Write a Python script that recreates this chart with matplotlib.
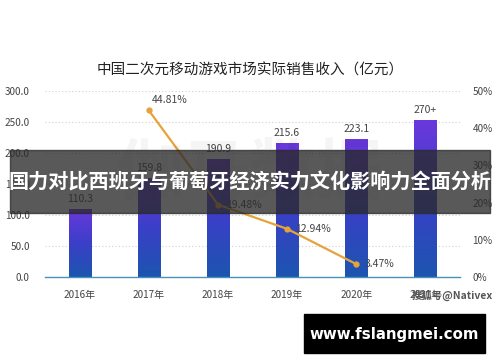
import numpy as np
import matplotlib
matplotlib.use("Agg")
import matplotlib.pyplot as plt
from matplotlib.patches import Rectangle
from matplotlib.colors import LinearSegmentedColormap

plt.rcParams['font.family'] = ['Noto Sans CJK SC', 'DejaVu Sans']

# data
years = ["2016年", "2017年", "2018年", "2019年", "2020年", "2021年"]
revenue = [110.3, 159.8, 190.9, 215.6, 223.1, 254.0]
revenue_labels = ["110.3", "159.8", "190.9", "215.6", "223.1", "270+"]
growth_years = [1, 2, 3, 4]
growth = [44.81, 19.48, 12.94, 3.47]

title = "中国二次元移动游戏市场实际销售收入（亿元）"
banner = "国力对比西班牙与葡萄牙经济实力文化影响力全面分析"
site = "www.fslangmei.com"

fig = plt.figure(figsize=(5, 3.62), dpi=100)
ax = fig.add_axes([0.09, 0.2348, 0.83, 0.5138])
x = np.arange(len(years))

bars = ax.bar(x, revenue, width=0.32, color="none", zorder=2)
cmap = LinearSegmentedColormap.from_list("barfade", ["#1c55b0", "#3b3fc8", "#6a38dc"])
grad = np.linspace(0, 1, 100).reshape(-1, 1)
for b in bars:
    x0, y0 = b.get_x(), b.get_y()
    im = ax.imshow(grad, cmap=cmap, origin="lower", aspect="auto",
                   extent=(x0, x0 + b.get_width(), y0, y0 + b.get_height()), zorder=2)
    im.set_clip_path(b)
for xi, v, lab in zip(x, revenue, revenue_labels):
    ax.text(xi, v + 8, lab, ha="center", va="bottom", fontsize=7.5, color="#444444")

ax.set_xlim(-0.5, 5.5)
ax.set_ylim(0, 300)
ax.set_yticks(np.arange(0, 301, 50))
ax.set_yticklabels([f"{t:.1f}" for t in np.arange(0, 301, 50)])
ax.set_xticks(x)
ax.set_xticklabels(years)
ax.yaxis.grid(True, linestyle=(0, (1, 2)), color="#d0d0d0", linewidth=0.8)
ax.set_axisbelow(True)
for s in ["top", "right", "left"]:
    ax.spines[s].set_visible(False)
ax.spines["bottom"].set_color("#4a90b8")
ax.spines["bottom"].set_linewidth(1.0)
ax.tick_params(axis="both", length=0, labelsize=7.2, labelcolor="#444444")
ax.tick_params(axis="x", pad=9)
ax.tick_params(axis="y", pad=11)

ax2 = ax.twinx()
ax2.set_ylim(0, 50)
ax2.set_yticks(np.arange(0, 51, 10))
ax2.set_yticklabels([f"{t}%" for t in range(0, 51, 10)])
for s in ax2.spines.values():
    s.set_visible(False)
ax2.tick_params(axis="y", length=0, labelsize=7.2, labelcolor="#444444", pad=9)
ax2.plot(growth_years, growth, color="#e5a33a", linewidth=1.6, marker="o",
         markersize=3.5, zorder=3)
ax2.text(growth_years[0] + 0.3, growth[0] + 1.5, f"{growth[0]:.2f}%", ha="center",
         va="bottom", fontsize=7.5, color="#444444")
for gx, gv in zip(growth_years[1:], growth[1:]):
    ax2.text(gx + 0.12, gv, f"{gv:.2f}%", ha="left", va="center",
             fontsize=7.5, color="#444444")

fig.text(0.5, 0.805, title, ha="center", va="center", fontsize=10.5, color="#222222")

# faint background watermark
fig.text(0.5, 0.52, "伽马数据", ha="center", va="center", fontsize=48,
         color="#000000", alpha=0.04, fontweight="bold")

# overlay banner
fig.patches.append(Rectangle((0.02, 1 - 213 / 362), 0.96, 63 / 362,
                             transform=fig.transFigure, color="#2a2a2a", alpha=0.78,
                             zorder=10))
fig.text(0.5, 1 - 182 / 362, banner, ha="center", va="center", fontsize=14.5,
         color="white", fontweight="bold", zorder=11)

fig.text(0.905, 1 - 295 / 362, "搜狐号@Nativex", ha="center", va="center",
         fontsize=7.5, color="#555555", fontweight="bold", zorder=11)

fig.patches.append(Rectangle((304 / 500, 1 - 353 / 362), 181 / 500, 39 / 362,
                             transform=fig.transFigure, color="black", zorder=10))
fig.text(394.5 / 500, 1 - 334 / 362, site, ha="center", va="center", fontsize=10.8,
         color="white", fontweight="bold", zorder=11, family="DejaVu Sans")

fig.savefig("out.png", dpi=100)
